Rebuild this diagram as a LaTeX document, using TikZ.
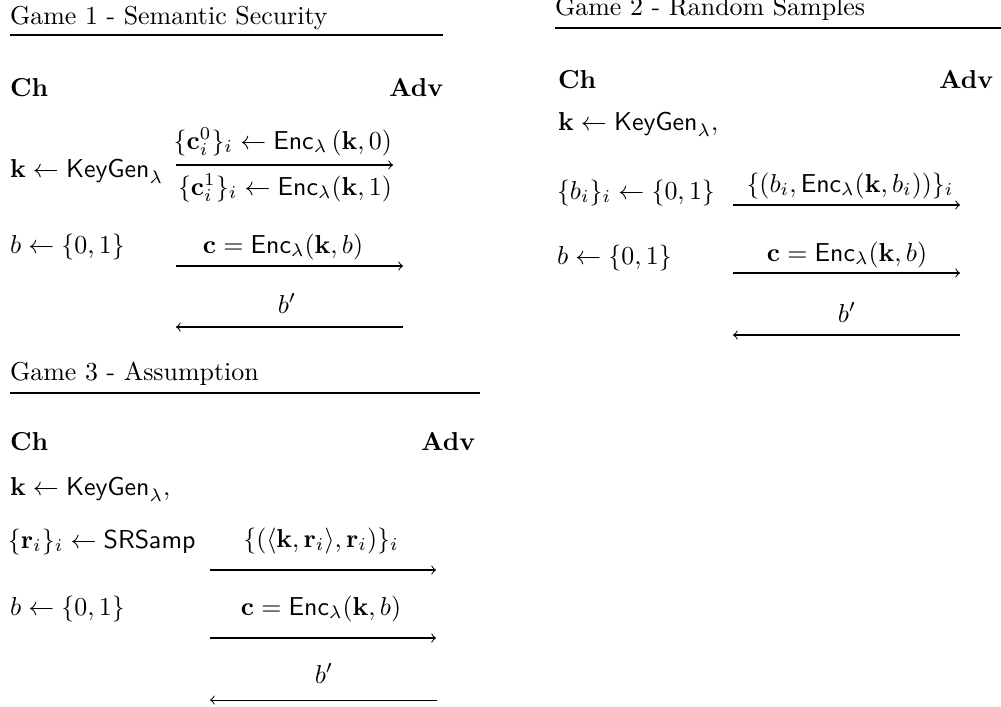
\documentclass[tikz,border=0pt]{standalone}
\usepackage{amsmath}
\begin{document}
\begin{tikzpicture}[x=0.386pt,y=-0.386pt,
  txt/.style={inner sep=0pt,outer sep=0pt},
  lt/.style={txt,anchor=base west},
  rt/.style={txt,anchor=base east},
  ct/.style={txt,anchor=base},
  msg/.style={->,line width=0.4pt},
  rulel/.style={line width=0.5pt}]
\useasboundingbox (0,0) rectangle (1001,706);

% ---------------- Game 1 ----------------
\node[lt] (t1) at (10,24) {Game 1 - Semantic Security};
\coordinate (r1a) at (10,35); \coordinate (r1b) at (443,35);
\draw[rulel] (r1a) -- (r1b);
\node[lt] (ch1) at (10,96) {\textbf{Ch}};
\node[rt] (adv1) at (443,96) {\textbf{Adv}};
\node[lt] (k1) at (10,177) {$\mathbf{k}\leftarrow\mathsf{KeyGen}_\lambda$};
\coordinate (g1a1) at (176,165); \coordinate (g1b1) at (393,165);
\draw[msg] (g1a1) -- (g1b1);
\node[rt] (m1a) at (392,149) {$\{\mathbf{c}_i^0\}_i\leftarrow\mathsf{Enc}_\lambda\,(\mathbf{k},0)$};
\node[rt] (m1b) at (392,195) {$\{\mathbf{c}_i^1\}_i\leftarrow\mathsf{Enc}_\lambda(\mathbf{k},1)$};
\node[lt] (bb1) at (10,253) {$b\leftarrow\{0,1\}$};
\coordinate (g1a2) at (176,266); \coordinate (g1b2) at (403,266);
\draw[msg] (g1a2) -- (g1b2);
\node[ct] (m1c) at (283,253) {$\mathbf{c}=\mathsf{Enc}_\lambda(\mathbf{k},b)$};
\coordinate (g1a3) at (176,327); \coordinate (g1b3) at (403,327);
\draw[msg] (g1b3) -- (g1a3);
\node[ct] (m1d) at (287,313) {$b'$};

% ---------------- Game 2 ----------------
\node[lt] (t2) at (555,15) {Game 2 - Random Samples};
\coordinate (r2a) at (555,28); \coordinate (r2b) at (1001,28);
\draw[rulel] (r2a) -- (r2b);
\node[lt] (ch2) at (558,88) {\textbf{Ch}};
\node[rt] (adv2) at (993,88) {\textbf{Adv}};
\node[lt] (k2) at (558,130) {$\mathbf{k}\leftarrow\mathsf{KeyGen}_\lambda,$};
\node[lt] (bi2) at (557,199) {$\{b_i\}_i\leftarrow\{0,1\}$};
\coordinate (g2a1) at (733,205); \coordinate (g2b1) at (960,205);
\draw[msg] (g2a1) -- (g2b1);
\node[ct] (m2a) at (850,192) {$\{(b_i,\mathsf{Enc}_\lambda(\mathbf{k},b_i))\}_i$};
\node[lt] (bb2) at (557,264) {$b\leftarrow\{0,1\}$};
\coordinate (g2a2) at (733,273); \coordinate (g2b2) at (960,273);
\draw[msg] (g2a2) -- (g2b2);
\node[ct] (m2c) at (847,261) {$\mathbf{c}=\mathsf{Enc}_\lambda(\mathbf{k},b)$};
\coordinate (g2a3) at (733,335); \coordinate (g2b3) at (960,335);
\draw[msg] (g2b3) -- (g2a3);
\node[ct] (m2d) at (847,322) {$b'$};

% ---------------- Game 3 ----------------
\node[lt] (t3) at (10,380) {Game 3 - Assumption};
\coordinate (r3a) at (10,393); \coordinate (r3b) at (480,393);
\draw[rulel] (r3a) -- (r3b);
\node[lt] (ch3) at (10,450) {\textbf{Ch}};
\node[rt] (adv3) at (475,450) {\textbf{Adv}};
\node[lt] (k3) at (10,495) {$\mathbf{k}\leftarrow\mathsf{KeyGen}_\lambda,$};
\node[lt] (ri3) at (8,548) {$\{\mathbf{r}_i\}_i\leftarrow\mathsf{SRSamp}$};
\coordinate (g3a1) at (210,570); \coordinate (g3b1) at (436,570);
\draw[msg] (g3a1) -- (g3b1);
\node[ct] (m3a) at (321,547) {$\{(\langle\mathbf{k},\mathbf{r}_i\rangle,\mathbf{r}_i)\}_i$};
\node[lt] (bb3) at (10,615) {$b\leftarrow\{0,1\}$};
\coordinate (g3a2) at (210,638); \coordinate (g3b2) at (436,638);
\draw[msg] (g3a2) -- (g3b2);
\node[ct] (m3c) at (321,615) {$\mathbf{c}=\mathsf{Enc}_\lambda(\mathbf{k},b)$};
\coordinate (g3a3) at (210,700); \coordinate (g3b3) at (437,700);
\draw[msg] (g3b3) -- (g3a3);
\node[ct] (m3d) at (324,683) {$b'$};
\end{tikzpicture}
\end{document}
